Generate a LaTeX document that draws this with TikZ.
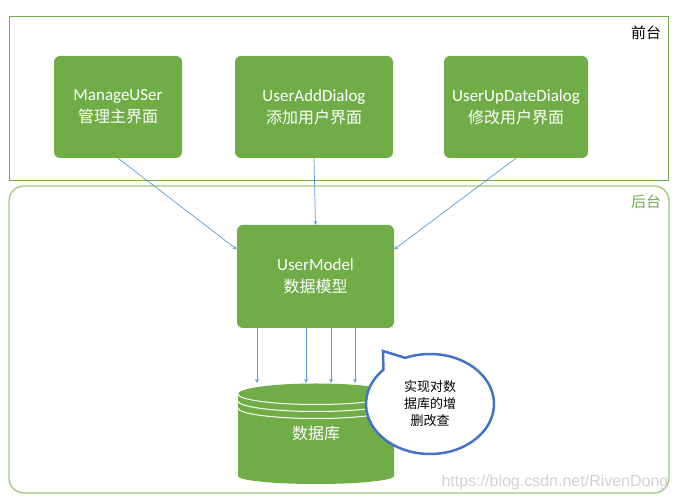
\documentclass[tikz,border=0pt]{standalone}
\usepackage{fontspec}
\setmainfont{Carlito}
\newfontfamily\cjk{Noto Sans CJK SC}
\newfontfamily\wmfont{Liberation Sans}
\usetikzlibrary{arrows,shapes.callouts}
\usepackage{xcolor}
\definecolor{boxgreen}{HTML}{70AD47}
\definecolor{backgreen}{HTML}{9CC97D}
\definecolor{arrowblue}{HTML}{5B9BD5}
\definecolor{bubbleblue}{HTML}{4472C4}

\begin{document}
\begin{tikzpicture}[x=1pt,y=1pt,>=stealth,
  gbox/.style={fill=boxgreen,rounded corners=6pt,text=white,align=center,
    font=\fontsize{17}{22}\selectfont,inner sep=0pt},
  link/.style={draw=arrowblue,line width=0.7pt,->}]
\useasboundingbox (0,0) rectangle (675,500);
%%%%%%%%%%%%%%%%
\draw [boxgreen,line width=0.9pt] (9,484) rectangle (668,320);
\node (front) at (646,467) {\cjk\fontsize{15}{15}\selectfont 前台};
\draw [backgreen,line width=1.3pt,rounded corners=15pt] (9,314) rectangle (669,7);
\node[text=boxgreen] (back) at (646,298) {\cjk\fontsize{15}{15}\selectfont 后台};
%%%%%%%%%%%%%%%%
\node[gbox,minimum width=128pt,minimum height=102pt] (manage) at (118,393)
{ManageUSer\\{\cjk\fontsize{16}{22}\selectfont 管理主界面}};
\node[gbox,minimum width=158pt,minimum height=102pt] (addDlg) at (314,393)
{UserAddDialog\\{\cjk\fontsize{16}{22}\selectfont 添加用户界面}};
\node[gbox,minimum width=144pt,minimum height=102pt] (updDlg) at (516,393)
{UserUpDateDialog\\{\cjk\fontsize{16}{22}\selectfont 修改用户界面}};
%%%%%%%%%%%%%%%%
\node[gbox,minimum width=157pt,minimum height=103pt] (model) at (315.5,223.5)
{UserModel\\{\cjk\fontsize{16}{22}\selectfont 数据模型}};
\draw [link] (manage.south) -- (model.161);
\draw [link] (addDlg.south) -- (model.north);
\draw [link] (updDlg.south) -- (model.19);
%%%%%%%%%%%%%%%%
\fill [boxgreen] (238,106) arc[start angle=180,end angle=0,x radius=78,y radius=10.5]
  -- (394,24) arc[start angle=0,end angle=-180,x radius=78,y radius=8] -- cycle;
\foreach \ly in {106,99,92}
  \draw [white,line width=1pt] (238,\ly) arc[start angle=180,end angle=360,x radius=78,y radius=10.5];
\node[minimum width=156pt,minimum height=101pt,inner sep=0pt,text=white,
  font=\cjk\fontsize{16}{16}\selectfont] (db) at (316,66.5) {数据库};
\foreach \dx in {-58.5,-9.5,15.5,39.5}
  \draw [link] ([xshift=\dx pt]model.south) -- ([xshift=\dx pt]model.south |- db.north);
%%%%%%%%%%%%%%%%
\node[ellipse callout,draw=bubbleblue,line width=2.5pt,fill=white,
  minimum width=128pt,minimum height=100pt,inner sep=0pt,
  callout absolute pointer={(383,149)},callout pointer arc=24,align=center,
  font=\cjk\fontsize{13}{17}\selectfont] (bubble) at (430,96)
{实现对数\\据库的增\\删改查};
%%%%%%%%%%%%%%%%
\node[text=black!18,font=\wmfont\fontsize{16}{16}\selectfont] (wm) at (555,18)
{https://blog.csdn.net/RivenDong};
\end{tikzpicture}
\end{document}
